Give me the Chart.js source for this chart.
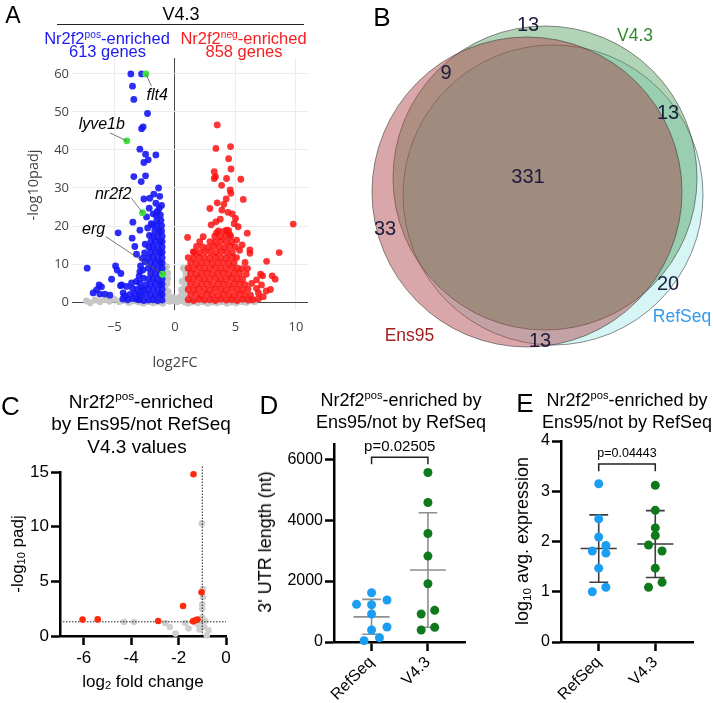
<!DOCTYPE html>
<html>
<head>
<meta charset="utf-8">
<script src="https://cdn.jsdelivr.net/npm/chart.js@4.4.1/dist/chart.umd.min.js"></script>
<style>
html, body { margin: 0; padding: 0; background: #fff; }
body { width: 713px; height: 703px; position: relative; overflow: hidden; font-family: 'Liberation Sans', Arial, sans-serif; }
canvas { position: absolute; }
.t { position: absolute; transform: translate(-50%, -50%); white-space: nowrap; line-height: 1; }
.r { transform: translate(-50%, -50%) rotate(-90deg); }
sup { font-size: 62%; vertical-align: 0.6em; line-height: 0; }
sub { font-size: 65%; vertical-align: -0.25em; line-height: 0; }
</style>
</head>
<body>

<canvas id="cA" width="360" height="370" style="left:0;top:0"></canvas>
<canvas id="cB" width="353" height="360" style="left:360px;top:0"></canvas>
<canvas id="cC" width="240" height="343" style="left:0;top:360px"></canvas>
<canvas id="cD" width="230" height="343" style="left:240px;top:360px"></canvas>
<canvas id="cE" width="243" height="343" style="left:470px;top:360px"></canvas>

<!-- panel A -->
<div class="t" style="left:13px;top:15px;font-size:23px">A</div>
<div class="t" style="left:181px;top:13.5px;font-size:18px">V4.3</div>
<div style="position:absolute;left:57px;top:24px;width:247px;border-top:1px solid #222"></div>
<div class="t" style="left:107px;top:38px;font-size:16.5px;color:#1b1bf0">Nr2f2<sup>pos</sup>-enriched</div>
<div class="t" style="left:107.5px;top:50.5px;font-size:16.5px;color:#1b1bf0">613 genes</div>
<div class="t" style="left:243.5px;top:38px;font-size:16.5px;color:#f52020">Nr2f2<sup>neg</sup>-enriched</div>
<div class="t" style="left:244px;top:50.5px;font-size:16.5px;color:#f52020">858 genes</div>
<div class="t r" style="left:33px;top:185px;font-size:14.5px;color:#444;font-family:'Open Sans'">-log10padj</div>
<div class="t" style="left:175px;top:362px;font-size:14.5px;color:#444;font-family:'Open Sans'">log2FC</div>

<!-- panel B -->
<div class="t" style="left:382px;top:16.5px;font-size:26px">B</div>
<div class="t" style="left:528px;top:23.5px;font-size:20px;color:#1c1c3c">13</div>
<div class="t" style="left:446px;top:72px;font-size:20px;color:#1c1c3c">9</div>
<div class="t" style="left:668px;top:112px;font-size:20px;color:#1c1c3c">13</div>
<div class="t" style="left:528px;top:176px;font-size:20px;color:#1c1c3c">331</div>
<div class="t" style="left:385px;top:228px;font-size:20px;color:#1c1c3c">33</div>
<div class="t" style="left:668px;top:283px;font-size:20px;color:#1c1c3c">20</div>
<div class="t" style="left:540px;top:340px;font-size:20px;color:#1c1c3c">13</div>
<div class="t" style="left:635px;top:36px;font-size:17.5px;color:#2e8b2e">V4.3</div>
<div class="t" style="left:682px;top:316.5px;font-size:17.5px;color:#3399ee">RefSeq</div>
<div class="t" style="left:409.5px;top:335.5px;font-size:17.5px;color:#a31f1f">Ens95</div>

<!-- panel C -->
<div class="t" style="left:10.5px;top:406px;font-size:26px">C</div>
<div class="t" style="left:141px;top:401px;font-size:19px">Nr2f2<sup>pos</sup>-enriched</div>
<div class="t" style="left:141px;top:423px;font-size:19px">by Ens95/not RefSeq</div>
<div class="t" style="left:137px;top:446px;font-size:19px">V4.3 values</div>
<div class="t r" style="left:17px;top:554px;font-size:17px">-log<sub>10</sub> padj</div>
<div class="t" style="left:143px;top:681px;font-size:17px">log<sub>2</sub> fold change</div>

<!-- panel D -->
<div class="t" style="left:269px;top:404.5px;font-size:26px">D</div>
<div class="t" style="left:401px;top:400px;font-size:18px">Nr2f2<sup>pos</sup>-enriched by</div>
<div class="t" style="left:401px;top:422px;font-size:18px">Ens95/not by RefSeq</div>
<div class="t r" style="left:265px;top:542px;font-size:18px">3' UTR length (nt)</div>

<!-- panel E -->
<div class="t" style="left:525px;top:403px;font-size:26px">E</div>
<div class="t" style="left:627px;top:400px;font-size:18px">Nr2f2<sup>pos</sup>-enriched by</div>
<div class="t" style="left:627px;top:422px;font-size:18px">Ens95/not by RefSeq</div>
<div class="t r" style="left:522px;top:541px;font-size:18px">log<sub>10</sub> avg. expression</div>

<script>
// ---------- panel A: volcano, V4.3 (log2FC, -log10 padj) ----------
const grayPoints = [
  [-7.3,0.3],[-7.0,-0.2],[-6.6,0.5],[-6.2,0.1],[-5.8,0.6],[-5.4,0.2],[-5.0,0.7],[-4.6,0.1],
  [-4.2,0.4],[-3.8,-0.1],[-3.4,0.3],[-3.0,0.0],[-2.6,-0.3],[-2.2,0.1],[-1.8,-0.2],[-1.4,0.0],
  [-1.0,-0.3],[-0.7,0.4],[-0.4,0.2],[-0.1,0.6],[0.2,0.1],[0.5,0.5],[0.8,0.0],[1.1,-0.3],
  [1.5,0.0],[1.9,-0.2],[2.3,0.1],[2.7,-0.3],[3.1,0.0],[3.5,-0.2],[3.9,0.1],[4.3,-0.3],
  [4.7,0.0],[5.1,-0.2],[5.5,0.1],[5.9,-0.1],[6.3,0.3],[6.6,0.1],
  [-0.95,8.6],[-0.7,9.3],[-0.9,7.0],[-0.6,7.6],[-0.85,5.8],[-0.95,4.6],[-0.65,4.9],[-0.8,3.6],
  [-0.9,2.6],[-0.7,2.0],[-0.6,1.3],[-0.75,0.9],[-0.35,0.9],[-0.5,0.5],[-0.2,1.2],[0.0,0.3],
  [0.15,0.9],[0.35,0.6],[0.45,1.4],[0.6,2.1],[0.7,2.8],[0.8,3.7],[0.9,4.8],[0.85,6.0],
  [0.95,7.2],[0.7,8.9],[0.9,8.0],[0.65,1.0],[0.8,1.7],[-0.95,1.5],[-0.55,2.7],[0.55,3.2],
  [0.6,5.4],[-0.6,6.2]
];
const bluePoints = [
  [-3.64,60],[-2.75,60],[-3.5,56.8],[-3.39,53.3],[-2.26,49.6],[-2.62,46.1],[-2.75,45.6],
  [-2.89,40.2],[-2.42,38.9],[-1.57,38.7],[-2.2,37.4],[-2.56,36.7],[-3.39,33.0],[-2.42,33.2],
  [-2.78,31.7],[-1.35,30.0],[-1.74,28.4],[-2.56,27.1],[-2.07,27.3],[-1.57,26.0],[-2.12,24.7],
  [-1.46,23.8],[-2.34,22.4],[-3.47,21.0],[-2.89,18.9],[-4.69,18.2],[-3.53,16.8],[-3.31,14.6],
  [-3.17,12.6],[-7.25,8.9],[-4.9,9.5],[-4.77,8.4],[-4.46,7.5],[-2.84,9.5],[-2.89,8.0],[-5.23,6.0],
  [-4.4,4.5],[-6.75,2.4],[-6.47,3.2],[-6.06,4.0],[-6.26,4.5],[-5.79,2.1],[-5.37,1.8],[-6.2,2.1],
  [-4.27,2.4],[-3.99,4.1],[-3.58,5.0],[-3.17,5.4],[-4.13,1.6],[-4.49,4.3],
  [-4.3,0.8],[-3.9,0.6],[-3.5,0.9],[-3.15,0.7],[-3.7,2.0],[-3.3,2.3],[-2.95,2.1],[-3.5,3.6],
  [-3.1,3.4],[-2.75,3.7],[-2.9,5.0],[-2.6,6.3],[-2.95,6.8],[-2.65,8.4],[-2.45,10.6],[-2.5,12.9],
  [-2.45,15.2],[-2.7,11.5],[-2.1,17.5],[-2.25,19.5],[-1.95,20.6],[-1.3,24.6],[-1.1,25.4],
  [-1.8,23.2],[-1.25,27.8],
  [-1.05,0.5],[-1.43,0.4],[-1.81,0.6],[-2.19,0.5],[-2.57,0.4],[-2.95,0.6],
  [-1.05,1.9],[-1.24,2.0],[-1.62,1.8],[-2.0,1.9],[-2.38,2.0],[-2.76,1.8],
  [-1.05,3.3],[-1.43,3.2],[-1.81,3.4],[-2.19,3.3],[-2.57,3.2],
  [-1.05,4.7],[-1.24,4.6],[-1.62,4.8],[-2.0,4.7],[-2.38,4.6],
  [-1.05,6.1],[-1.43,6.0],[-1.81,6.2],[-2.19,6.1],
  [-1.05,7.5],[-1.24,7.4],[-1.62,7.6],[-2.0,7.5],
  [-1.05,8.9],[-1.43,8.8],[-1.81,9.0],[-2.19,8.9],
  [-1.05,10.3],[-1.24,10.2],[-1.62,10.4],[-2.0,10.3],
  [-1.05,11.7],[-1.43,11.6],[-1.81,11.8],[-2.19,11.7],
  [-1.05,13.1],[-1.24,13.0],[-1.62,13.2],[-2.0,13.1],
  [-1.05,14.5],[-1.43,14.4],[-1.81,14.6],[-2.15,14.5],
  [-1.05,15.9],[-1.24,15.8],[-1.62,16.0],[-1.98,15.9],
  [-1.05,17.3],[-1.43,17.2],[-1.8,17.4],
  [-1.1,18.7],[-1.3,18.6],[-1.66,18.8],
  [-1.1,20.1],[-1.45,20.0],[-1.8,20.2],
  [-1.15,21.5],[-1.5,21.4],
  [-1.2,22.9],[-1.55,22.8]
];
const redPoints = [
  [3.5,46.6],[3.39,40.4],[4.6,40.9],[4.44,37.7],[4.64,35.0],[3.25,34.3],[3.25,32.5],[3.36,33.0],
  [3.86,30.7],[4.27,32.5],[5.45,32.3],[4.57,29.5],[4.63,28.6],[4.24,27.1],[5.65,27.0],[3.5,26.1],
  [2.89,24.6],[3.88,24.2],[4.38,23.6],[4.74,23.2],[3.39,21.1],[5.01,22.0],[5.23,19.8],[5.98,18.1],
  [9.78,20.5],[1.05,17.0],[8.62,13.0],[7.58,10.7],[7.08,7.3],[7.25,6.9],[8.04,6.9],[8.29,6.0],
  [4.27,18.9],[4.55,17.6],[3.44,18.2],[5.1,16.3],[2.34,17.2],[1.79,14.6],[1.52,13.2],[6.2,12.8],
  [6.2,13.7],[6.75,5.8],[6.34,4.9],[6.75,3.6],[7.16,4.5],[3.0,20.3],[4.9,20.6],[3.75,21.8],
  [4.05,25.7],[5.55,15.0],[5.35,13.6],[2.05,15.9],[6.0,8.8],[5.8,10.4],[6.9,2.4],[7.3,1.4],
  [7.55,2.9],[6.9,0.8],[7.9,3.3],[5.9,7.3],
  [1.1,0.6],[1.55,0.4],[2.0,0.7],[2.45,0.5],[2.9,0.6],[3.35,0.4],[3.8,0.7],[4.25,0.5],[4.7,0.6],
  [5.15,0.4],[5.6,0.7],[6.05,0.5],[6.45,0.6],
  [1.3,1.9],[1.75,2.0],[2.2,1.8],[2.65,2.0],[3.1,1.9],[3.55,1.8],[4.0,2.0],[4.45,1.9],[4.9,1.8],
  [5.35,2.0],[5.8,1.9],[6.25,1.8],
  [1.1,3.3],[1.55,3.2],[2.0,3.4],[2.45,3.3],[2.9,3.2],[3.35,3.4],[3.8,3.3],[4.25,3.2],[4.7,3.4],
  [5.15,3.3],[5.6,3.2],[6.05,3.4],
  [1.3,4.7],[1.75,4.6],[2.2,4.8],[2.65,4.7],[3.1,4.6],[3.55,4.8],[4.0,4.7],[4.45,4.6],[4.9,4.8],
  [5.35,4.7],[5.8,4.6],
  [1.1,6.1],[1.55,6.0],[2.0,6.2],[2.45,6.1],[2.9,6.0],[3.35,6.2],[3.8,6.1],[4.25,6.0],[4.7,6.2],
  [5.15,6.1],[5.6,6.0],
  [1.3,7.5],[1.75,7.4],[2.2,7.6],[2.65,7.5],[3.1,7.4],[3.55,7.6],[4.0,7.5],[4.45,7.4],[4.9,7.6],
  [5.35,7.5],
  [1.1,8.9],[1.55,8.8],[2.0,9.0],[2.45,8.9],[2.9,8.8],[3.35,9.0],[3.8,8.9],[4.25,8.8],[4.7,9.0],
  [5.15,8.9],[5.55,8.8],
  [1.3,10.3],[1.75,10.2],[2.2,10.4],[2.65,10.3],[3.1,10.2],[3.55,10.4],[4.0,10.3],[4.45,10.2],[4.9,10.4],
  [1.1,11.7],[1.55,11.6],[2.0,11.8],[2.45,11.7],[2.9,11.6],[3.35,11.8],[3.8,11.7],[4.25,11.6],
  [4.7,11.8],[5.1,11.7],
  [1.6,13.1],[2.05,13.0],[2.5,13.2],[2.95,13.1],[3.4,13.0],[3.85,13.2],[4.3,13.1],[4.75,13.0],
  [2.3,14.5],[2.75,14.4],[3.2,14.6],[3.65,14.5],[4.1,14.4],[4.55,14.6],[5.0,14.5],
  [2.9,15.9],[3.35,15.8],[3.8,16.0],[4.25,15.9],[4.7,15.8],
  [3.3,17.3],[3.75,17.2],[4.2,17.4],[4.6,17.3],
  [3.6,18.7],[4.05,18.6],[4.45,18.8]
];
const geneNames = ['flt4', 'lyve1b', 'nr2f2', 'erg'];
const geneFC = [-2.4, -3.97, -2.67, -1.02];
const genePadj = [60, 42.4, 23.5, 7.3];
const volcanoXTicks = [-5, 0, 5, 10];
const volcanoYTicks = [0, 10, 20, 30, 40, 50, 60];

// ---------- panel B: Venn of Nr2f2pos-enriched gene sets ----------
const vennNames = ['Ens95', 'V4.3', 'RefSeq'];
const vennCX = [167, 185, 193];
const vennCY = [192, 178, 195];
const vennR = [155, 152, 150];

// ---------- panel C: Nr2f2pos-enriched by Ens95/not RefSeq ----------
const cRedFC = [-6.05, -5.41, -2.86, -1.81, -1.03, -1.39, -1.30, -1.20, -1.37];
const cRedP = [1.5, 1.52, 1.37, 2.74, 4.0, 1.34, 1.43, 1.5, 14.8];
const cGrayFC = [-4.3, -3.88, -2.56, -2.37, -2.13, -1.72, -1.58, -1.09, -0.92, -0.74, -0.81, -1.02, -0.97, -0.97, -1.0, -1.0, -1.0, -1.23, -1.12, -0.88];
const cGrayP = [1.28, 1.28, 1.19, 0.82, 0.22, 1.19, 0.68, 0.98, 0.82, 0.52, 0.06, 10.3, 3.57, 4.3, 2.5, 2.9, 1.7, 1.13, 0.6, 1.4];
const padjCut = 1.3;
const fcCut = -1;

// ---------- panels D, E ----------
const groups = ['RefSeq', 'V4.3'];
const utrRefSeq = [1616, 1236, 1377, 1223, 918, 393, 492, 141, 43];
const utrRefSeqJit = [0, -0.40, 0.41, 0, 0, 0, 0.41, 0.21, -0.20];
const utrV43 = [5564, 4580, 3563, 2820, 1912, 918, 1039, 393, 481];
const utrV43Jit = [0, 0, 0, 0, 0, -0.18, 0.18, -0.18, 0.18];
const utrMean = [826, 2363];
const utrSD = [574, 1879];
const utrP = 'p=0.02505';

const exprRefSeq = [3.15, 2.45, 2.09, 1.81, 1.92, 1.77, 1.47, 1.00, 1.09];
const exprRefSeqJit = [0, 0, 0, -0.17, 0.19, 0.19, 0, -0.17, 0.19];
const exprV43 = [3.12, 2.62, 2.27, 2.12, 1.93, 1.81, 1.47, 1.19, 1.09];
const exprV43Jit = [0, 0, 0, 0, -0.18, 0.18, 0, 0.18, -0.18];
const exprMean = [1.86, 1.95];
const exprSD = [0.67, 0.665];
const exprP = 'p=0.04443';

// ---------- helpers ----------
Chart.defaults.font.family = "'Liberation Sans', Arial, sans-serif";
Chart.defaults.color = '#000';
Chart.defaults.animation = false;
Chart.defaults.responsive = false;
Chart.defaults.plugins.legend.display = false;
Chart.defaults.plugins.tooltip.enabled = false;

const xy = pts => pts.map(p => ({ x: p[0], y: p[1] }));
const zipXY = (xs, ys) => xs.map((x, i) => ({ x: x, y: ys[i] }));
const fixW = w => s => { s.width = w; };
const fixH = h => s => { s.height = h; };
const setTicks = vals => s => { s.ticks = vals.map(v => ({ value: v })); };

function dataText(items) {
  return {
    id: 'dataText',
    afterDatasetsDraw(chart) {
      const { ctx, scales } = chart;
      ctx.save();
      items.forEach(it => {
        ctx.font = it.font;
        ctx.fillStyle = it.color || '#000';
        ctx.textAlign = it.align || 'center';
        ctx.textBaseline = 'middle';
        ctx.fillText(it.text, scales.x.getPixelForValue(it.x) + (it.dx || 0), scales.y.getPixelForValue(it.y) + (it.dy || 0));
      });
      ctx.restore();
    }
  };
}

// ---------- A ----------
// leader line ends (data units) and label offsets (px) for the labelled genes
const leaderEnd = [[-1.93, 56.8], [-5.37, 44.5], [-3.58, 27.3], [-5.70, 17.2]];
const labelOffset = [[-5, 9, 'left'], [15, -8.5, 'right'], [-18.4, -4, 'center'], [-12.2, -7.5, 'center']];

const leaderSets = geneNames.map((g, i) => ({
  data: [{ x: geneFC[i], y: genePadj[i] }, { x: leaderEnd[i][0], y: leaderEnd[i][1] }],
  showLine: true, borderColor: '#555', borderWidth: 0.8, pointRadius: 0
}));

new Chart(document.getElementById('cA'), {
  type: 'scatter',
  data: {
    datasets: leaderSets.concat([
      { data: zipXY(geneFC, genePadj), backgroundColor: '#3ee23e', clip: false },
      { data: xy(bluePoints), backgroundColor: 'rgba(22,22,245,0.9)', clip: false },
      { data: xy(redPoints), backgroundColor: 'rgba(252,18,18,0.85)', clip: false },
      { data: xy(grayPoints), backgroundColor: '#c6c6c6', clip: false }
    ])
  },
  options: {
    layout: { padding: { left: 0, top: 58, right: 52, bottom: 0 } },
    elements: { point: { radius: 3.4, borderWidth: 0, hoverRadius: 3.4 } },
    scales: {
      x: {
        min: -8.5, max: 11,
        afterFit: fixH(60), afterBuildTicks: setTicks(volcanoXTicks),
        border: { display: false },
        grid: { color: c => (c.tick && c.tick.value === 0) ? '#444' : '#ececec', drawTicks: false },
        ticks: { padding: 9, color: '#444', font: { family: 'Open Sans', size: 13 },
                 callback: v => String(v).replace('-', '\u2212') }
      },
      y: {
        min: -2.1, max: 64.2,
        afterFit: fixW(72), afterBuildTicks: setTicks(volcanoYTicks),
        border: { display: false },
        grid: { color: c => (c.tick && c.tick.value === 0) ? '#444' : '#ececec', drawTicks: false },
        ticks: { padding: 3, color: '#444', font: { family: 'Open Sans', size: 13 } }
      }
    }
  },
  plugins: [dataText(geneNames.map((g, i) => ({
    text: g, x: leaderEnd[i][0], y: leaderEnd[i][1], dx: labelOffset[i][0], dy: labelOffset[i][1],
    align: labelOffset[i][2], font: "italic 16px 'Liberation Sans', Arial"
  })))]
});

// ---------- B ----------
const vennFill = ['rgba(170,60,65,0.45)', 'rgba(70,150,80,0.42)', 'rgba(120,225,225,0.3)'];
new Chart(document.getElementById('cB'), {
  type: 'scatter',
  data: {
    datasets: vennNames.map((n, i) => ({
      label: n,
      data: [{ x: vennCX[i], y: vennCY[i] }],
      backgroundColor: vennFill[i],
      borderColor: 'rgba(60,60,60,0.75)',
      borderWidth: 0.8,
      clip: false,
      pointRadius: c => c.chart.scales.x.getPixelForValue(vennR[i]) - c.chart.scales.x.getPixelForValue(0),
      pointHoverRadius: c => c.chart.scales.x.getPixelForValue(vennR[i]) - c.chart.scales.x.getPixelForValue(0)
    }))
  },
  options: {
    layout: { padding: 0 },
    scales: {
      x: { display: false, min: 0, max: 353 },
      y: { display: false, min: 0, max: 360, reverse: true }
    }
  }
});

// ---------- GraphPad-style axes ----------
function prismAxis(extra) {
  return Object.assign({
    border: { display: true, width: 2.5, color: '#000' },
    grid: { drawOnChartArea: false, drawTicks: true, tickLength: 9, tickWidth: 2.5, tickColor: '#000' }
  }, extra);
}

// ---------- C ----------
new Chart(document.getElementById('cC'), {
  type: 'scatter',
  data: {
    datasets: [
      { data: zipXY(cRedFC, cRedP), backgroundColor: '#ff2a0a', pointRadius: 3.3, clip: false },
      { data: [{ x: -7, y: padjCut }, { x: 0, y: padjCut }], showLine: true, pointRadius: 0,
        borderColor: '#222', borderWidth: 1, borderDash: [1.5, 1.5] },
      { data: [{ x: fcCut, y: 0 }, { x: fcCut, y: 15.5 }], showLine: true, pointRadius: 0,
        borderColor: '#222', borderWidth: 1, borderDash: [1.5, 1.5], clip: false },
      { data: zipXY(cGrayFC, cGrayP), backgroundColor: '#cfcfcf', pointRadius: 3.3, clip: false }
    ]
  },
  options: {
    layout: { padding: { left: 0, top: 112, right: 14, bottom: 0 } },
    elements: { point: { borderWidth: 0 } },
    scales: {
      x: prismAxis({ min: -7, max: 0, afterFit: fixH(67), afterBuildTicks: setTicks([-6, -4, -2, 0]),
        ticks: { padding: 3, font: { size: 17 } } }),
      y: prismAxis({ min: 0, max: 15, afterFit: fixW(60), afterBuildTicks: setTicks([0, 5, 10, 15]),
        ticks: { padding: 2, font: { size: 17 } } })
    }
  }
});

// ---------- D, E ----------
const groupPos = [1, 2.5];
function errorBar(pos, mean, sd, meanHalf, capHalf) {
  const lo = mean - sd, hi = mean + sd;
  return [
    { x: pos - meanHalf, y: mean }, { x: pos + meanHalf, y: mean }, { x: pos, y: null },
    { x: pos, y: lo }, { x: pos, y: hi }, { x: pos, y: null },
    { x: pos - capHalf, y: hi }, { x: pos + capHalf, y: hi }, { x: pos, y: null },
    { x: pos - capHalf, y: lo }, { x: pos + capHalf, y: lo }
  ];
}
function dotPanel(id, vals, jits, means, sds, yMax, yTicks, yW, pad, bracket, pText, pFont, barColor) {
  const dotColors = ['#1b9ef2', '#0e7a1c'];
  const dots = vals.map((v, g) => ({
    data: v.map((y, i) => ({ x: groupPos[g] + jits[g][i], y: y })),
    backgroundColor: dotColors[g], pointRadius: 4.5, clip: false
  }));
  const bars = means.map((m, g) => ({
    data: errorBar(groupPos[g], m, sds[g], 0.48, 0.25),
    showLine: true, pointRadius: 0, borderColor: barColor, borderWidth: 1.6, spanGaps: false, clip: false
  }));
  const br = {
    data: [{ x: groupPos[0], y: bracket[1] }, { x: groupPos[0], y: bracket[0] },
           { x: groupPos[1], y: bracket[0] }, { x: groupPos[1], y: bracket[1] }],
    showLine: true, pointRadius: 0, borderColor: '#222', borderWidth: 1.5, clip: false
  };
  new Chart(document.getElementById(id), {
    type: 'scatter',
    data: { datasets: dots.concat(bars, [br]) },
    options: {
      layout: { padding: pad },
      elements: { point: { borderWidth: 0 } },
      scales: {
        x: prismAxis({ min: 0, max: 3.5, afterFit: fixH(61), afterBuildTicks: setTicks(groupPos),
          ticks: { padding: 2, font: { size: 16 }, autoSkip: false, minRotation: 45, maxRotation: 45,
                   callback: v => groups[groupPos.indexOf(v)] } }),
        y: prismAxis({ min: 0, max: yMax, afterFit: fixW(yW), afterBuildTicks: setTicks(yTicks),
          ticks: { padding: 2, font: { size: 16 }, callback: v => String(v) } })
      }
    },
    plugins: [dataText([{ text: pText, x: (groupPos[0] + groupPos[1]) / 2, y: bracket[2],
                          font: pFont + "px 'Liberation Sans', Arial" }])]
  });
}

dotPanel('cD', [utrRefSeq, utrV43], [utrRefSeqJit, utrV43Jit], utrMean, utrSD,
  6500, [0, 2000, 4000, 6000], 94, { left: 0, top: 84, right: 3, bottom: 0 },
  [6066, 5836, 6393], utrP, 15, '#8f8f8f');

dotPanel('cE', [exprRefSeq, exprV43], [exprRefSeqJit, exprV43Jit], exprMean, exprSD,
  4, [0, 1, 2, 3, 4], 91, { left: 0, top: 81, right: 20, bottom: 0 },
  [3.54, 3.40, 3.76], exprP, 12.5, '#3d3d3d');
</script>
</body>
</html>
